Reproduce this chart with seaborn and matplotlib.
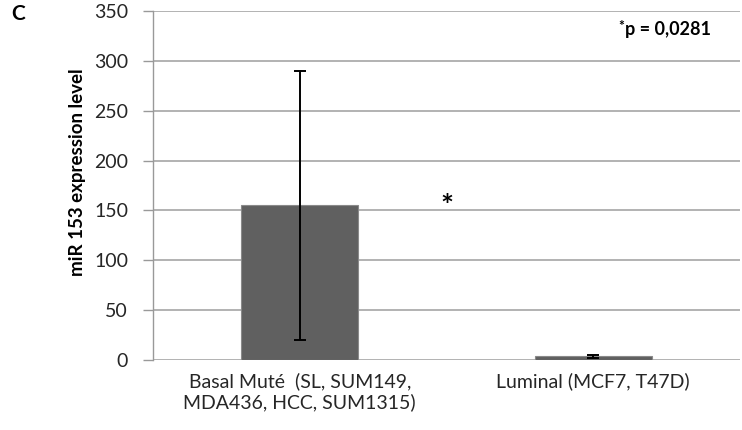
import matplotlib
matplotlib.use("Agg")
import matplotlib.pyplot as plt
import seaborn as sns
import pandas as pd

categories = ["Basal Muté  (SL, SUM149,\nMDA436, HCC, SUM1315)", "Luminal (MCF7, T47D)"]
means = [155, 4]
errors = [135, 1.5]
yticks = [0, 50, 100, 150, 200, 250, 300, 350]

sns.set_theme(style="white")
plt.rcParams['font.family'] = ['Lato', 'DejaVu Sans']

fig = plt.figure(figsize=(7.42, 4.30), dpi=100)
ax = fig.add_axes([153/742, 1-360/430, 587/742, 349/430])

df = pd.DataFrame({"cat": categories, "val": means})
sns.barplot(data=df, x="cat", y="val", ax=ax, color="#606060", width=0.4,
            edgecolor="#8a8a8a", linewidth=0.8, saturation=1, zorder=3)
ax.errorbar(x=range(len(categories)), y=means, yerr=errors, fmt="none",
            ecolor="black", elinewidth=1.4, capsize=4, capthick=1.4, zorder=4)

ax.set_ylim(0, 350)
ax.set_xlim(-0.5, 1.5)
ax.set_yticks(yticks)
ax.set_yticklabels([str(t) for t in yticks], fontsize=14, color="#262626")
ax.tick_params(axis="y", length=7, width=1, color="#999999", pad=11, left=True)
ax.tick_params(axis="x", length=0, pad=9, labelsize=14, labelcolor="#262626")
ax.set_xlabel("")
ax.set_ylabel("")
ax.grid(axis="y", color="#a6a6a6", linewidth=1.2, zorder=0)
ax.set_axisbelow(True)
for s in ["top", "right", "bottom"]:
    ax.spines[s].set_visible(False)
ax.spines["left"].set_color("#999999")
ax.spines["left"].set_linewidth(1)

fig.text(78/742, 1-172/430, "miR 153 expression level", rotation=90,
         ha="center", va="center", fontsize=13.5, fontweight="bold", color="black")

ax.text(0.5, 153, "*", ha="center", va="center", fontsize=22, fontweight="bold", color="black")
ax.text(1.105, 335, "*", ha="right", va="center", fontsize=10, fontweight="bold", color="black")
ax.text(1.108, 331, "p = 0,0281", ha="left", va="center", fontsize=13,
        fontweight="bold", color="black")
fig.text(11/742, 1-14/430, "C", fontsize=15, fontweight="bold", color="black",
         ha="left", va="center")

fig.savefig("out.png", dpi=100)
